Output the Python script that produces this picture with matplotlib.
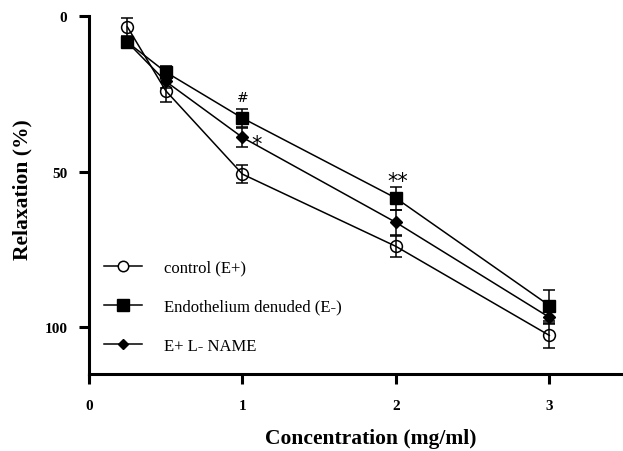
"""
Relaxation vs concentration, three groups
"""
import matplotlib
matplotlib.use("Agg")
import matplotlib.pyplot as plt
from matplotlib.lines import Line2D

conc = [0.25, 0.5, 1, 2, 3]

control = [3.5, 24, 50.8, 74, 102.6]
control_err = [3, 3.7, 3, 3.4, 4]

denuded = [8.4, 18, 32.8, 58.5, 93]
denuded_err = [1.5, 2, 3, 3.7, 5]

lname = [8.4, 21, 39, 66.3, 96.8]
lname_err = [1.5, 2, 3, 4, 2]

labels = ["control (E+)", "Endothelium denuded (E-)", "E+ L- NAME"]
xticks = [0, 1, 2, 3]
yticks = [0, 50, 100]

plt.rcParams['font.family'] = ['Liberation Serif', 'DejaVu Serif']

fig = plt.figure(figsize=(6.23, 4.52), dpi=100)
ax = fig.add_axes([89 / 623, 1 - 375 / 452, 534 / 623, 358 / 452])

common = dict(color='black', lw=1.1, capsize=4.3, elinewidth=1.1, capthick=1.1)
ax.errorbar(conc, control, yerr=control_err, marker='o', ms=8.5, mfc='none',
            mec='black', mew=1.1, **common)
ax.errorbar(conc, lname, yerr=lname_err, marker='D', ms=6, mfc='black',
            mec='black', **common)
ax.errorbar(conc, denuded, yerr=denuded_err, marker='s', ms=8.5, mfc='black',
            mec='black', **common)

# significance marks
ax.text(1, denuded[2] - denuded_err[2] - 1.5, "#", ha='center', va='bottom',
        fontsize=10, family='DejaVu Sans')
ax.text(1.095, lname[2] + 2, "*", ha='center', va='center', fontsize=15,
        family='DejaVu Sans')
ax.text(2.015, denuded[3] - denuded_err[3] - 1.8, "**", ha='center', va='center',
        fontsize=15, family='DejaVu Sans')

ax.set_xlim(0, 3.48)
ax.set_ylim(115, 0)
ax.set_xticks(xticks)
ax.set_yticks(yticks)
ax.tick_params(width=2.2, length=7, labelsize=11)
ax.tick_params(axis='x', pad=11)
ax.tick_params(axis='y', pad=8.5)
for lab in ax.get_xticklabels() + ax.get_yticklabels():
	lab.set_fontweight('bold')

for side in ('top', 'right'):
	ax.spines[side].set_visible(False)
for side in ('left', 'bottom'):
	ax.spines[side].set_linewidth(2.2)
# left spine runs a bit past the x axis
ax.plot([0, 0], [0, -0.015], transform=ax.transAxes, color='black', lw=2.2,
        clip_on=False, solid_capstyle='butt')

ax.set_xlabel("Concentration (mg/ml)", fontsize=15.5, fontweight='bold')
ax.xaxis.set_label_coords(0.528, -0.152)
ax.set_ylabel("Relaxation (%)", fontsize=15.5, fontweight='bold')
ax.yaxis.set_label_coords(-0.105, 0.517)

handles = [
	Line2D([], [], color='black', lw=1.1, marker='o', ms=7.5, mfc='white', mec='black', mew=1.1),
	Line2D([], [], color='black', lw=1.1, marker='s', ms=8, mfc='black', mec='black'),
	Line2D([], [], color='black', lw=1.1, marker='D', ms=5.5, mfc='black', mec='black'),
]
ax.legend(handles, labels, loc='upper left', bbox_to_anchor=(0.028, 0.319),
          frameon=False, fontsize=12, handlelength=2.3, handletextpad=1.3,
          labelspacing=1.38, borderpad=0, borderaxespad=0)

fig.savefig("out.png", dpi=100)
